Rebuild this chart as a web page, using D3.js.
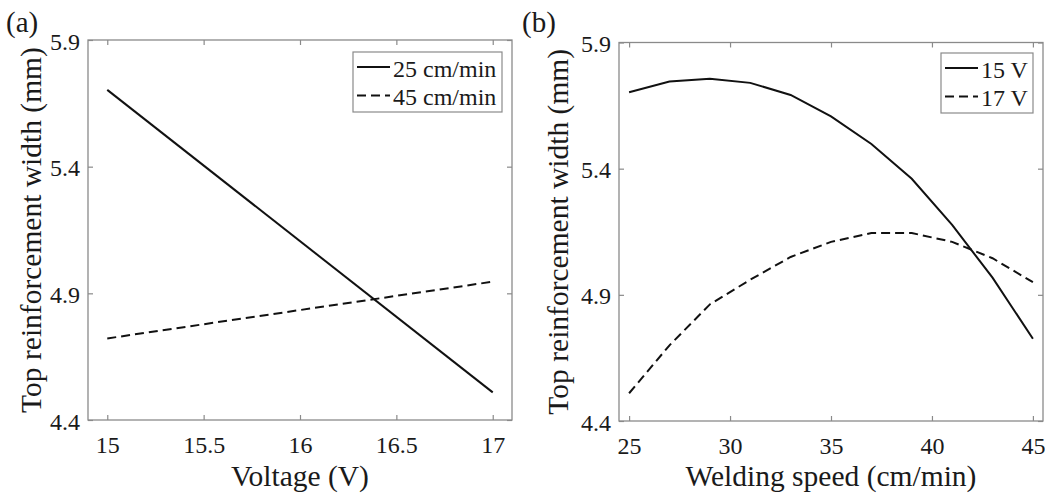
<!DOCTYPE html>
<html>
<head>
<meta charset="utf-8">
<script src="https://cdn.jsdelivr.net/npm/d3@7"></script>
<style>
  html, body { margin: 0; padding: 0; background: #fff; }
  svg { display: block; }
  text { font-family: "Liberation Serif", "Times New Roman", serif; fill: #1a1a1a; }
</style>
</head>
<body>
<script>
// ---------- data ----------
const voltage = [15, 17];
const width25 = [5.703, 4.509];   // 25 cm/min
const width45 = [4.722, 4.946];   // 45 cm/min

const speed = [25, 27, 29, 31, 33, 35, 37, 39, 41, 43, 45];
const width15V = [5.703, 5.745, 5.756, 5.740, 5.692, 5.607, 5.498, 5.360, 5.177, 4.968, 4.726];
const width17V = [4.510, 4.700, 4.862, 4.960, 5.050, 5.110, 5.145, 5.145, 5.110, 5.045, 4.950];

const yTicks = [4.4, 4.9, 5.4, 5.9];
const xTicksA = [15, 15.5, 16, 16.5, 17];
const xTicksB = [25, 30, 35, 40, 45];

const legendA = ["25 cm/min", "45 cm/min"];
const legendB = ["15 V", "17 V"];
const yLabel = "Top reinforcement width (mm)";

// ---------- drawing ----------
const W = 1045, H = 493;
const FONT = "'Liberation Serif', 'Times New Roman', serif";
const svg = d3.select("body").append("svg").attr("width", W).attr("height", H)
  .attr("font-family", FONT);
const axisColor = "#8a8a8a";
const lineColor = "#111";
const dash = "9,5";

function panel(opts) {
  const { left, right, top, bottom, xDomain, xTicks, series, legend, xLabel, tag, legendBox, ylabX } = opts;
  const x = d3.scaleLinear().domain(xDomain).range([left, right]);
  const y = d3.scaleLinear().domain([4.4, 5.9]).range([bottom, top]);
  const g = svg.append("g");

  // box
  g.append("rect").attr("x", left).attr("y", top).attr("width", right - left).attr("height", bottom - top)
    .attr("fill", "none").attr("stroke", axisColor).attr("stroke-width", 1.3);

  const fmtX = d => String(d);
  // bottom axis
  const ax = g.append("g").attr("transform", `translate(0,${bottom})`)
    .call(d3.axisBottom(x).tickValues(xTicks).tickFormat(fmtX).tickSizeInner(-5).tickSizeOuter(0))
    .attr("font-family", FONT).attr("font-size", 24);
  ax.select(".domain").remove();
  ax.selectAll("line").attr("stroke", axisColor).attr("stroke-width", 1.2);
  ax.selectAll("text").attr("y", 33).attr("dy", 0).attr("fill", "#1a1a1a");
  // top axis
  const axT = g.append("g").attr("transform", `translate(0,${top})`)
    .call(d3.axisTop(x).tickValues(xTicks).tickFormat("").tickSizeInner(-5).tickSizeOuter(0));
  axT.select(".domain").remove();
  axT.selectAll("line").attr("stroke", axisColor).attr("stroke-width", 1.2);
  // left axis
  const ay = g.append("g").attr("transform", `translate(${left},0)`)
    .call(d3.axisLeft(y).tickValues(yTicks).tickFormat(d3.format(".1f")).tickSizeInner(-5).tickSizeOuter(0).tickPadding(8))
    .attr("font-family", FONT).attr("font-size", 24);
  ay.select(".domain").remove();
  ay.selectAll("line").attr("stroke", axisColor).attr("stroke-width", 1.2);
  ay.selectAll("text").attr("dy", "0.38em").attr("fill", "#1a1a1a");
  // right axis
  const ayR = g.append("g").attr("transform", `translate(${right},0)`)
    .call(d3.axisRight(y).tickValues(yTicks).tickFormat("").tickSizeInner(-5).tickSizeOuter(0));
  ayR.select(".domain").remove();
  ayR.selectAll("line").attr("stroke", axisColor).attr("stroke-width", 1.2);

  // lines
  series.forEach(s => {
    const pts = s.xs.map((d, i) => [d, s.ys[i]]);
    g.append("path")
      .attr("d", d3.line().x(d => x(d[0])).y(d => y(d[1]))(pts))
      .attr("fill", "none").attr("stroke", lineColor).attr("stroke-width", 2)
      .attr("stroke-dasharray", s.dashed ? dash : null);
  });

  // legend
  const lb = legendBox;
  g.append("rect").attr("x", lb.x).attr("y", lb.y).attr("width", lb.w).attr("height", lb.h)
    .attr("fill", "#fff").attr("stroke", axisColor).attr("stroke-width", 1.2);
  legend.forEach((name, i) => {
    const cy = lb.y + 15 + i * 28.5;
    g.append("line").attr("x1", lb.x + 4).attr("x2", lb.x + 37).attr("y1", cy).attr("y2", cy)
      .attr("stroke", lineColor).attr("stroke-width", 2)
      .attr("stroke-dasharray", i === 1 ? dash : null);
    g.append("text").attr("x", lb.x + 40).attr("y", cy + 9.5).attr("font-size", 24).text(name);
  });

  // labels
  g.append("text").attr("x", (left + right) / 2).attr("y", 486).attr("text-anchor", "middle")
    .attr("font-size", 29.5).text(xLabel);
  g.append("text").attr("transform", `translate(${ylabX},${(top + bottom) / 2}) rotate(-90)`)
    .attr("text-anchor", "middle").attr("font-size", 29.5).text(yLabel);
  g.append("text").attr("x", tag.x).attr("y", 32).attr("font-size", 29).text(tag.t);
}

panel({
  left: 88, right: 512, top: 40, bottom: 420,
  xDomain: [14.9, 17.1], xTicks: xTicksA,
  series: [{ xs: voltage, ys: width25, dashed: false }, { xs: voltage, ys: width45, dashed: true }],
  legend: legendA, xLabel: "Voltage (V)", tag: { x: 6, t: "(a)" },
  legendBox: { x: 353, y: 52, w: 149, h: 60 }, ylabX: 41
});

panel({
  left: 619, right: 1043, top: 42.5, bottom: 421,
  xDomain: [24.5, 45.5], xTicks: xTicksB,
  series: [{ xs: speed, ys: width15V, dashed: false }, { xs: speed, ys: width17V, dashed: true }],
  legend: legendB, xLabel: "Welding speed (cm/min)", tag: { x: 522, t: "(b)" },
  legendBox: { x: 941, y: 53, w: 92, h: 60 }, ylabX: 568
});
</script>
</body>
</html>
